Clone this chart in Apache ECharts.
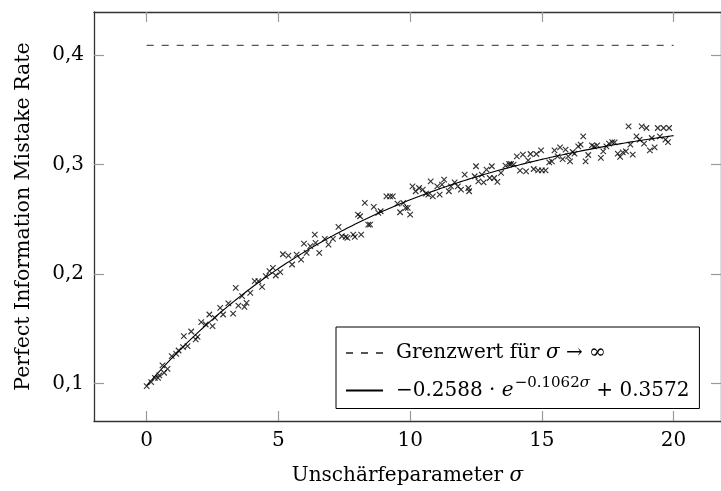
<!DOCTYPE html>
<html>
<head>
<meta charset="utf-8">
<script src="https://cdn.jsdelivr.net/npm/echarts@6/dist/echarts.min.js"></script>
<style>
  html, body { margin: 0; padding: 0; background: #fff; }
  #chart { width: 721px; height: 491px; }
</style>
</head>
<body>
<div id="chart"></div>
<script>
// Measured mistake rate for each blur parameter sigma
const sigma = [
  0.00, 0.17, 0.31, 0.43, 0.48, 0.66, 0.60, 0.79, 0.95, 1.12,
  1.21, 1.38, 1.41, 1.55, 1.69, 1.86, 1.93, 2.07, 2.24, 2.38,
  2.50, 2.59, 2.79, 2.90, 3.10, 3.28, 3.38, 3.48, 3.62, 3.71,
  3.79, 3.93, 4.10, 4.24, 4.38, 4.52, 4.66, 4.79, 4.90, 5.07,
  5.17, 5.38, 5.52, 5.69, 5.86, 5.97, 6.07, 6.21, 6.38, 6.41,
  6.55, 6.76, 6.90, 7.07, 7.28, 7.41, 7.55, 7.62, 7.84, 7.90,
  8.14, 8.02, 8.10, 8.28, 8.41, 8.48, 8.62, 8.79, 8.88, 9.10,
  9.24, 9.34, 9.52, 9.62, 9.74, 9.83, 9.91, 10.00, 10.09, 10.21,
  10.34, 10.48, 10.60, 10.69, 10.78, 10.86, 11.03, 11.12, 11.21, 11.29,
  11.47, 11.55, 11.69, 11.81, 11.93, 12.07, 12.21, 12.24, 12.45, 12.50,
  12.59, 12.72, 12.79, 12.90, 13.02, 13.10, 13.19, 13.31, 13.45, 13.62,
  13.76, 13.83, 13.93, 14.05, 14.17, 14.28, 14.40, 14.48, 14.57, 14.69,
  14.79, 14.86, 14.97, 15.00, 15.14, 15.28, 15.38, 15.48, 15.60, 15.69,
  15.79, 15.90, 16.00, 16.07, 16.17, 16.24, 16.38, 16.47, 16.57, 16.66,
  16.76, 16.90, 16.98, 17.10, 17.24, 17.33, 17.45, 17.55, 17.67, 17.76,
  17.88, 17.97, 18.07, 18.19, 18.29, 18.36, 18.45, 18.59, 18.71, 18.79,
  18.88, 18.97, 19.10, 19.17, 19.28, 19.40, 19.48, 19.62, 19.69, 19.83,
  19.79
];
const rate = [
  0.0978, 0.1015, 0.1054, 0.1054, 0.1076, 0.1100, 0.1167, 0.1136, 0.1252, 0.1273,
  0.1303, 0.1334, 0.1434, 0.1343, 0.1476, 0.1404, 0.1428, 0.1561, 0.1540, 0.1631,
  0.1525, 0.1601, 0.1692, 0.1631, 0.1732, 0.1640, 0.1874, 0.1713, 0.1798, 0.1701,
  0.1738, 0.1829, 0.1935, 0.1935, 0.1883, 0.1981, 0.2026, 0.2056, 0.1987, 0.2017,
  0.2181, 0.2169, 0.2087, 0.2178, 0.2132, 0.2278, 0.2193, 0.2254, 0.2360, 0.2284,
  0.2193, 0.2321, 0.2269, 0.2321, 0.2430, 0.2345, 0.2339, 0.2330, 0.2360, 0.2339,
  0.2360, 0.2542, 0.2527, 0.2649, 0.2451, 0.2451, 0.2612, 0.2558, 0.2573, 0.2709,
  0.2709, 0.2709, 0.2643, 0.2564, 0.2649, 0.2603, 0.2603, 0.2542, 0.2800, 0.2755,
  0.2785, 0.2770, 0.2734, 0.2725, 0.2846, 0.2709, 0.2800, 0.2725, 0.2816, 0.2861,
  0.2755, 0.2800, 0.2837, 0.2800, 0.2770, 0.2907, 0.2785, 0.2755, 0.2892, 0.2983,
  0.2846, 0.2907, 0.2837, 0.2952, 0.2876, 0.2983, 0.2876, 0.2840, 0.2922, 0.2989,
  0.3004, 0.3004, 0.2998, 0.3074, 0.2943, 0.3089, 0.2937, 0.3037, 0.3095, 0.2958,
  0.3095, 0.2946, 0.3128, 0.2946, 0.2946, 0.3019, 0.3028, 0.3128, 0.3074, 0.3156,
  0.3049, 0.3135, 0.3074, 0.3028, 0.3113, 0.3098, 0.3165, 0.3180, 0.3256, 0.3028,
  0.3086, 0.3174, 0.3165, 0.3174, 0.3059, 0.3119, 0.3165, 0.3189, 0.3204, 0.3201,
  0.3098, 0.3068, 0.3110, 0.3119, 0.3347, 0.3180, 0.3089, 0.3256, 0.3226, 0.3347,
  0.3189, 0.3332, 0.3128, 0.3241, 0.3156, 0.3332, 0.3256, 0.3332, 0.3226, 0.3332,
  0.3204
];

// Limit value for sigma -> infinity
const limitValue = 0.4085;
const limitRange = [0, 20];

// Exponential fit  a * e^(b*sigma) + c
const fitA = -0.2588;
const fitB = -0.1062;
const fitC = 0.3572;
const fitRange = [0, 20];

// Tick positions
const xTicks = [0, 5, 10, 15, 20];
const yTicks = [0.1, 0.2, 0.3, 0.4];

const FONT = '"DejaVu Serif", serif';

const scatterData = sigma.map((s, i) => [s, rate[i]]);
const fitData = [];
for (let k = 0; k <= 200; k++) {
  const s = fitRange[0] + (fitRange[1] - fitRange[0]) * k / 200;
  fitData.push([s, fitA * Math.exp(fitB * s) + fitC]);
}
const limitData = limitRange.map(s => [s, limitValue]);

const fmt = v => (v < 0 ? '\u2212' : '') + Math.abs(v).toString();
const fitLabel = '{lead|' + fmt(fitA) + ' \u00b7 }{it|e}{sup|' + fmt(fitB) + '}{supi|\u03c3}{t| + ' + fmt(fitC) + '}';
const limitLabel = '{lead|Grenzwert f\u00fcr }{it|\u03c3}{t| \u2192 \u221e}';

const axisLineStyle = { color: '#333', width: 1.3 };
const tickStyle = { color: '#9a9a9a', width: 1.2 };

const chart = echarts.init(document.getElementById('chart'), null, { renderer: 'canvas' });
chart.setOption({
  animation: false,
  backgroundColor: '#fff',
  grid: { left: 94, top: 12, width: 634.8, height: 409.7, containLabel: false },
  legend: {
    orient: 'vertical',
    left: 336,
    top: 327,
    padding: [16, 10, 8, 9],
    itemGap: 13,
    itemWidth: 37,
    itemHeight: 14,
    borderColor: '#000',
    borderWidth: 1,
    backgroundColor: '#fff',
    itemStyle: { opacity: 0 },
    data: ['limit', 'fit'],
    formatter: name => (name === 'limit' ? limitLabel : fitLabel),
    textStyle: {
      fontFamily: FONT,
      fontSize: 20,
      color: '#000',
      rich: {
        lead: { fontFamily: FONT, fontSize: 20, color: '#000', padding: [0, 0, 0, 8] },
        t: { fontFamily: FONT, fontSize: 20, color: '#000' },
        it: { fontFamily: FONT, fontSize: 20, fontStyle: 'italic', color: '#000' },
        sup: { fontFamily: FONT, fontSize: 15, color: '#000', padding: [0, 0, 14, 1] },
        supi: { fontFamily: FONT, fontSize: 15, fontStyle: 'italic', color: '#000', padding: [0, 0, 14, 0] }
      }
    }
  },
  xAxis: [
    {
      type: 'value', position: 'bottom', min: -2, max: 21.8,
      axisLine: { show: true, onZero: false, lineStyle: axisLineStyle },
      axisTick: { show: true, inside: true, length: 10, customValues: xTicks, lineStyle: tickStyle },
      axisLabel: { customValues: xTicks, fontFamily: FONT, fontSize: 20, color: '#000', margin: 10 },
      splitLine: { show: false },
      name: '{t|Unsch\u00e4rfeparameter }{it|\u03c3}',
      nameLocation: 'middle',
      nameGap: 45,
      nameTextStyle: {
        rich: {
          t: { fontFamily: FONT, fontSize: 20, color: '#000' },
          it: { fontFamily: FONT, fontSize: 20, fontStyle: 'italic', color: '#000' }
        }
      }
    },
    {
      type: 'value', position: 'top', min: -2, max: 21.8,
      axisLine: { show: true, onZero: false, lineStyle: axisLineStyle },
      axisTick: { show: true, inside: true, length: 10, customValues: xTicks, lineStyle: tickStyle },
      axisLabel: { show: false },
      splitLine: { show: false }
    }
  ],
  yAxis: [
    {
      type: 'value', position: 'left', min: 0.066, max: 0.439,
      axisLine: { show: true, onZero: false, lineStyle: axisLineStyle },
      axisTick: { show: true, inside: true, length: 10, customValues: yTicks, lineStyle: tickStyle },
      axisLabel: {
        customValues: yTicks, fontFamily: FONT, fontSize: 20, color: '#000', margin: 10,
        formatter: v => String(Math.round(v * 10) / 10).replace('.', ',')
      },
      splitLine: { show: false },
      name: 'Perfect Information Mistake Rate',
      nameLocation: 'middle',
      nameGap: 60,
      nameTextStyle: { fontFamily: FONT, fontSize: 20.5, color: '#000' }
    },
    {
      type: 'value', position: 'right', min: 0.066, max: 0.439,
      axisLine: { show: true, onZero: false, lineStyle: axisLineStyle },
      axisTick: { show: true, inside: true, length: 10, customValues: yTicks, lineStyle: tickStyle },
      axisLabel: { show: false },
      splitLine: { show: false }
    }
  ],
  series: [
    {
      name: 'limit', type: 'line', xAxisIndex: 0, yAxisIndex: 0,
      data: limitData, symbol: 'none', silent: true,
      lineStyle: { color: '#555', width: 1.3, type: [7, 8] },
      itemStyle: { color: '#555' }
    },
    {
      name: 'fit', type: 'line', xAxisIndex: 0, yAxisIndex: 0,
      data: fitData, symbol: 'none', silent: true,
      lineStyle: { color: '#000', width: 1.1 },
      itemStyle: { color: '#000' },
      z: 3
    },
    {
      name: 'measured', type: 'scatter', xAxisIndex: 0, yAxisIndex: 0,
      data: scatterData,
      symbol: 'path://M0,0L10,10M10,0L0,10',
      symbolSize: 5.5,
      itemStyle: { color: 'rgba(0,0,0,0)', borderColor: '#000', borderWidth: 1.15 },
      z: 2
    }
  ]
});
</script>
</body>
</html>
